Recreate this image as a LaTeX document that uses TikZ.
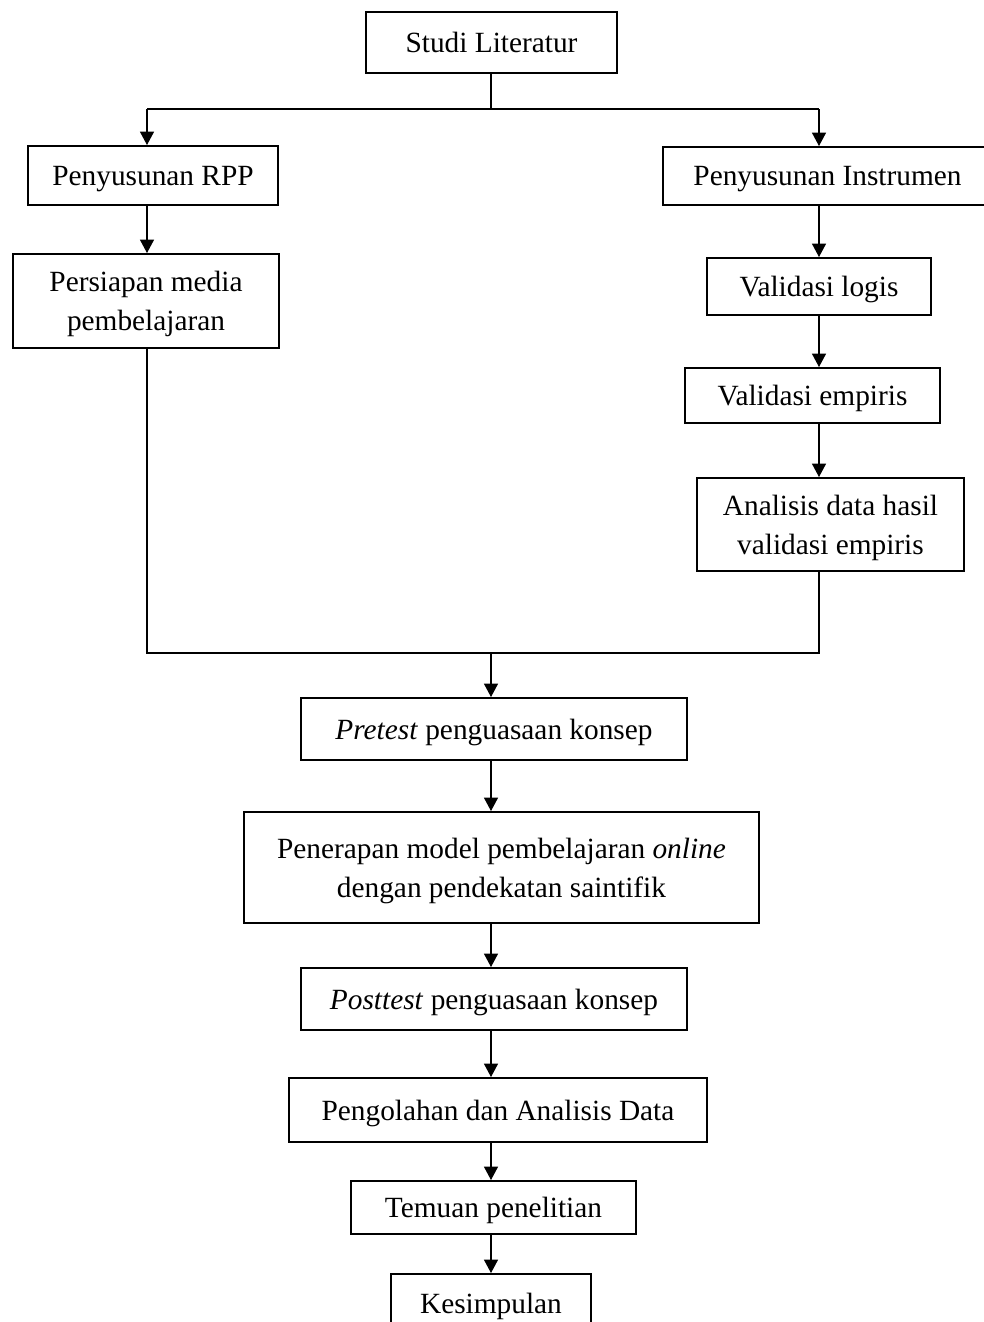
\documentclass[tikz,border=0pt]{standalone}
\usepackage{fontspec}
\setmainfont{Liberation Serif}
\usetikzlibrary{arrows.meta}

\begin{document}
\begin{tikzpicture}[x=0.75pt, y=-0.75pt,
  kotak/.style 2 args={draw, line width=1.5pt, align=center, inner sep=0pt, text depth=0pt,
    minimum width=#1, minimum height=#2, font=\fontsize{22}{29.5}\selectfont},
  panah/.style={line width=0.8pt, -{Triangle[width=10.5pt,length=10pt]}},
  garis/.style={line width=0.8pt}]
  % Frame
  \useasboundingbox (0,0) rectangle (984,1322);
  \clip (0,0) rectangle (984,1322);

  % Columns and junctions
  \coordinate (kiri) at (147,0);
  \coordinate (kanan) at (819,0);
  \coordinate (tengah) at (491,0);
  \coordinate (cabang) at (491,109);
  \coordinate (gabung) at (491,653);

  % Top
  \node[kotak={188.25pt}{45.75pt}] (studi) at (491.5,42.5) {Studi Literatur};

  % Left branch
  \node[kotak={187.5pt}{44.25pt}] (rpp) at (153,175.5) {Penyusunan RPP};
  \node[kotak={199.5pt}{70.5pt}] (media) at (146,301) {Persiapan media\\pembelajaran};

  % Right branch
  \node[kotak={246.75pt}{43.5pt}] (instrumen) at (827.5,176) {Penyusunan Instrumen};
  \node[kotak={168pt}{42.75pt}] (logis) at (819,286.5) {Validasi logis};
  \node[kotak={191.25pt}{41.25pt}] (empiris) at (812.5,395.5) {Validasi empiris};
  \node[kotak={200.25pt}{69.75pt}] (analisis) at (830.5,524.5) {Analisis data hasil\\validasi empiris};

  % Main column
  \node[kotak={289.5pt}{46.5pt}] (pretest) at (494,729) {\textit{Pretest} penguasaan konsep};
  \node[kotak={386.25pt}{83.25pt}] (penerapan) at (501.5,867.5) {Penerapan model pembelajaran \textit{online}\\dengan pendekatan saintifik};
  \node[kotak={289.5pt}{46.5pt}] (posttest) at (494,999) {\textit{Posttest} penguasaan konsep};
  \node[kotak={313.5pt}{48pt}] (olah) at (498,1110) {Pengolahan dan Analisis Data};
  \node[kotak={213.75pt}{39.75pt}] (temuan) at (493.5,1207.5) {Temuan penelitian};
  \node[kotak={150pt}{43.5pt}] (simpul) at (491,1303) {Kesimpulan};

  % Split
  \draw[garis] (studi.south -| cabang) -- (cabang);
  \draw[garis] (kiri |- cabang) -- (kanan |- cabang);
  \draw[panah] (kiri |- cabang) -- (rpp.north -| kiri);
  \draw[panah] (kanan |- cabang) -- (instrumen.north -| kanan);

  % Left arrows
  \draw[panah] (rpp.south -| kiri) -- (media.north -| kiri);

  % Right arrows
  \draw[panah] (instrumen.south -| kanan) -- (logis.north -| kanan);
  \draw[panah] (logis.south -| kanan) -- (empiris.north -| kanan);
  \draw[panah] (empiris.south -| kanan) -- (analisis.north -| kanan);

  % Merge
  \draw[garis] (media.south -| kiri) -- (kiri |- gabung) -- (kanan |- gabung) -- (analisis.south -| kanan);
  \draw[panah] (gabung) -- (pretest.north -| tengah);

  % Main arrows
  \draw[panah] (pretest.south -| tengah) -- (penerapan.north -| tengah);
  \draw[panah] (penerapan.south -| tengah) -- (posttest.north -| tengah);
  \draw[panah] (posttest.south -| tengah) -- (olah.north -| tengah);
  \draw[panah] (olah.south -| tengah) -- (temuan.north -| tengah);
  \draw[panah] (temuan.south -| tengah) -- (simpul.north -| tengah);
\end{tikzpicture}
\end{document}
